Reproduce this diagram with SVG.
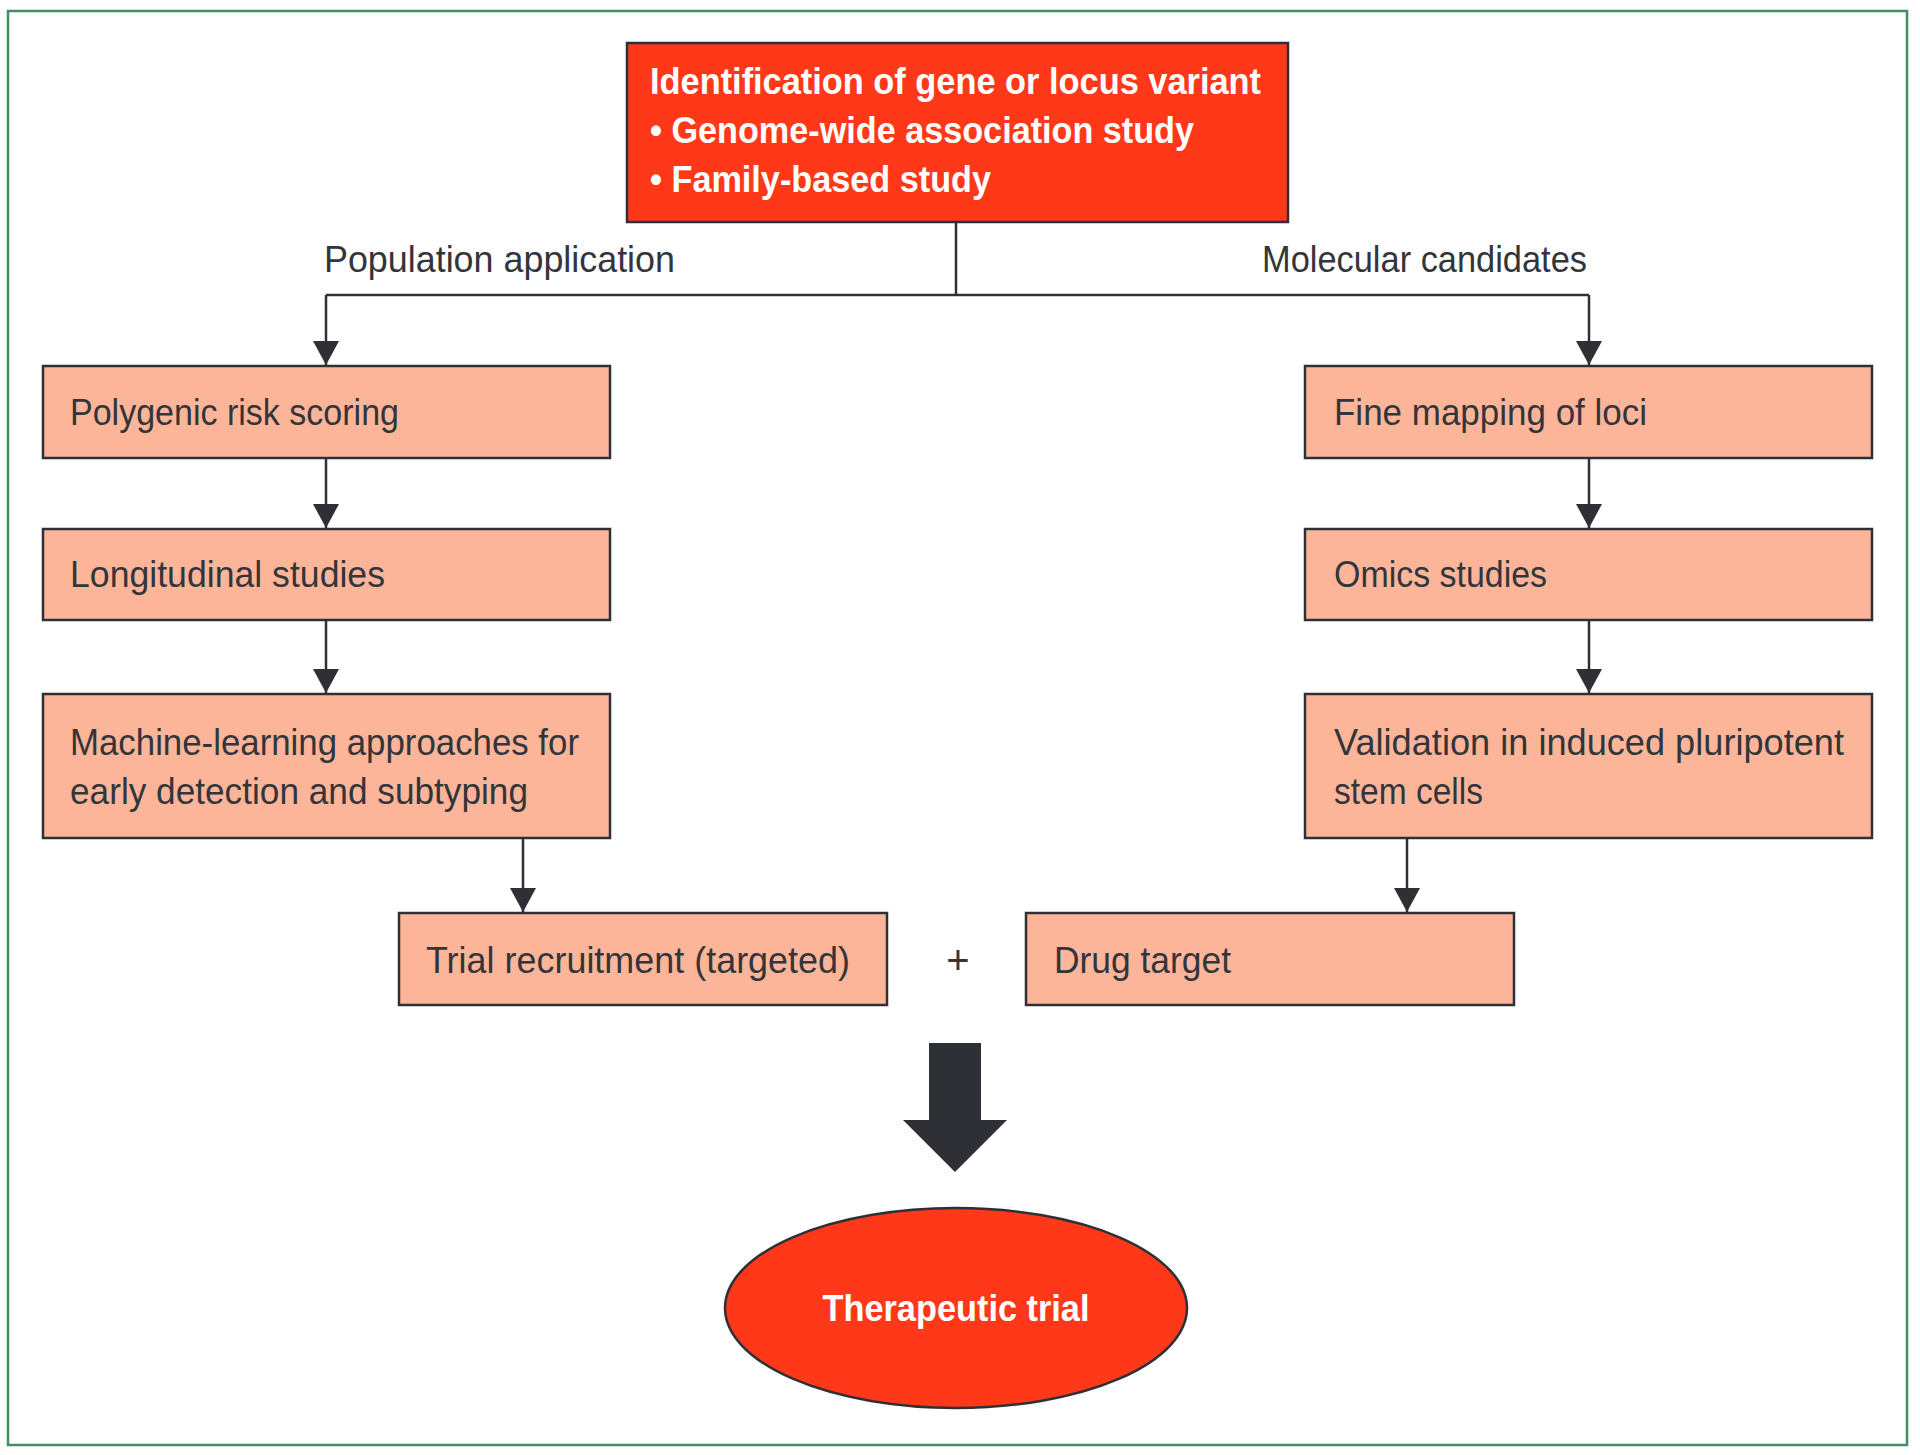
<svg xmlns="http://www.w3.org/2000/svg" width="1920" height="1455" viewBox="0 0 1920 1455">
<defs>
<style>
.box{fill:#fdb59a;stroke:#2e3036;stroke-width:2.5}
.red{fill:#ff3819;stroke:#2e3036;stroke-width:2.5}
.t{font-family:"Liberation Sans Narrow","Liberation Sans",Arial,sans-serif;font-size:37px;fill:#33353a}
.w{font-family:"Liberation Sans Narrow","Liberation Sans",Arial,sans-serif;font-size:37px;font-weight:bold;fill:#ffffff}
.c{fill:none;stroke:#2e3036;stroke-width:2.5}
</style>
<marker id="ad" markerWidth="26" markerHeight="24" viewBox="0 0 26 24" refX="13" refY="24" orient="0" markerUnits="userSpaceOnUse">
<path d="M0,0 L26,0 L13,24 Z" fill="#2e3036"/>
</marker>
</defs>
<rect x="0" y="0" width="1920" height="1455" fill="#ffffff"/>
<rect x="8" y="11" width="1899" height="1434" fill="none" stroke="#3f8f62" stroke-width="2.5"/>

<g id="connectors">
<path class="c" d="M956,222 V295"/>
<path class="c" d="M326,295 H1589"/>
<path class="c" d="M326,295 V365" marker-end="url(#ad)"/>
<path class="c" d="M1589,295 V365" marker-end="url(#ad)"/>
<path class="c" d="M326,458 V528" marker-end="url(#ad)"/>
<path class="c" d="M326,620 V693" marker-end="url(#ad)"/>
<path class="c" d="M1589,458 V528" marker-end="url(#ad)"/>
<path class="c" d="M1589,620 V693" marker-end="url(#ad)"/>
<path class="c" d="M523,838 V912" marker-end="url(#ad)"/>
<path class="c" d="M1407,838 V912" marker-end="url(#ad)"/>
<text class="t" x="324" y="272" textLength="351" lengthAdjust="spacingAndGlyphs">Population application</text>
<text class="t" x="1262" y="272" textLength="325" lengthAdjust="spacingAndGlyphs">Molecular candidates</text>
<text class="t" x="958" y="974" text-anchor="middle" style="font-size:40px">+</text>
<polygon points="929,1043 981,1043 981,1120 1007,1120 955,1172 903,1120 929,1120" fill="#2e3036"/>
</g>

<g id="top">
<rect class="red" x="627" y="43" width="661" height="179"/>
<text class="w" x="650" y="94" textLength="611" lengthAdjust="spacingAndGlyphs">Identification of gene or locus variant</text>
<text class="w" x="650" y="143" textLength="544" lengthAdjust="spacingAndGlyphs">• Genome-wide association study</text>
<text class="w" x="650" y="192" textLength="341" lengthAdjust="spacingAndGlyphs">• Family-based study</text>
</g>

<g id="polygenic">
<rect class="box" x="43" y="366" width="567" height="92"/>
<text class="t" x="70" y="425" textLength="329" lengthAdjust="spacingAndGlyphs">Polygenic risk scoring</text>
</g>
<g id="longitudinal">
<rect class="box" x="43" y="529" width="567" height="91"/>
<text class="t" x="70" y="587" textLength="315" lengthAdjust="spacingAndGlyphs">Longitudinal studies</text>
</g>
<g id="machine">
<rect class="box" x="43" y="694" width="567" height="144"/>
<text class="t" x="70" y="755" textLength="509" lengthAdjust="spacingAndGlyphs">Machine-learning approaches for</text>
<text class="t" x="70" y="804" textLength="458" lengthAdjust="spacingAndGlyphs">early detection and subtyping</text>
</g>
<g id="trial">
<rect class="box" x="399" y="913" width="488" height="92"/>
<text class="t" x="426" y="973" textLength="424" lengthAdjust="spacingAndGlyphs">Trial recruitment (targeted)</text>
</g>

<g id="finemapping">
<rect class="box" x="1305" y="366" width="567" height="92"/>
<text class="t" x="1334" y="425" textLength="313" lengthAdjust="spacingAndGlyphs">Fine mapping of loci</text>
</g>
<g id="omics">
<rect class="box" x="1305" y="529" width="567" height="91"/>
<text class="t" x="1334" y="587" textLength="213" lengthAdjust="spacingAndGlyphs">Omics studies</text>
</g>
<g id="validation">
<rect class="box" x="1305" y="694" width="567" height="144"/>
<text class="t" x="1334" y="755" textLength="510" lengthAdjust="spacingAndGlyphs">Validation in induced pluripotent</text>
<text class="t" x="1334" y="804" textLength="149" lengthAdjust="spacingAndGlyphs">stem cells</text>
</g>
<g id="drug">
<rect class="box" x="1026" y="913" width="488" height="92"/>
<text class="t" x="1054" y="973" textLength="177" lengthAdjust="spacingAndGlyphs">Drug target</text>
</g>

<g id="therapeutic">
<ellipse class="red" cx="956" cy="1308" rx="231" ry="100"/>
<text class="w" x="956" y="1321" text-anchor="middle" textLength="267" lengthAdjust="spacingAndGlyphs">Therapeutic trial</text>
</g>
</svg>
